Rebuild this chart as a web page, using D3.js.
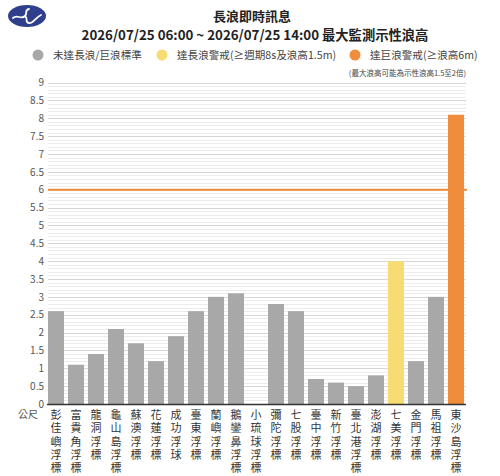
<!DOCTYPE html>
<html>
<head>
<meta charset="utf-8">
<title>長浪即時訊息</title>
<script src="https://cdn.jsdelivr.net/npm/d3@7/dist/d3.min.js"></script>
<style>
  body { margin: 0; background: #fff; }
  text { font-family: "Noto Sans CJK TC", "Noto Sans", sans-serif; }
</style>
</head>
<body>
<script>
var stations = ["彭佳嶼浮標", "富貴角浮標", "龍洞浮標", "龜山島浮標", "蘇澳浮標", "花蓮浮標", "成功浮球",
  "臺東浮標", "蘭嶼浮標", "鵝鑾鼻浮標", "小琉球浮標", "彌陀浮標", "七股浮標", "臺中浮標", "新竹浮標",
  "臺北港浮標", "澎湖浮標", "七美浮標", "金門浮標", "馬祖浮標", "東沙島浮標"];
var waveHeight = [2.6, 1.1, 1.4, 2.1, 1.7, 1.2, 1.9, 2.6, 3.0, 3.1, null, 2.8, 2.6, 0.7, 0.6, 0.5, 0.8, 4.0, 1.2, 3.0, 8.1];
// 0 = below standard, 1 = swell warning, 2 = high wave warning
var level = [0, 0, 0, 0, 0, 0, 0, 0, 0, 0, 0, 0, 0, 0, 0, 0, 0, 1, 0, 0, 2];
var yTicks = [0, 0.5, 1, 1.5, 2, 2.5, 3, 3.5, 4, 4.5, 5, 5.5, 6, 6.5, 7, 7.5, 8, 8.5, 9];
var legendLabels = ["未達長浪/巨浪標準", "達長浪警戒(≥週期8s及浪高1.5m)", "達巨浪警戒(≥浪高6m)"];
var levelColors = ["#a8a8a8", "#f6dc73", "#ef8d3c"];
var threshold = 6;

var width = 500, height = 476;
var svg = d3.select("body").append("svg").attr("width", width).attr("height", height);

var x = d3.scaleBand().domain(stations).range([46, 466]).paddingInner(0.2).paddingOuter(0.1);
var y = d3.scaleLinear().domain([0, 9]).range([404, 82.6]);

// logo
var logo = svg.append("g").attr("transform", "translate(27,16)");
logo.append("ellipse").attr("rx", 19).attr("ry", 11).attr("fill", "#2f3f8c");
logo.append("path")
  .attr("d", "M-14,2 C-10,-2 -6,4 -2,0 C1,-3 -3,-6 2,-7 M-2,0 C2,3 -3,6 2,7 C6,8 9,1 14,-1")
  .attr("fill", "none").attr("stroke", "#fff").attr("stroke-width", 1.8).attr("stroke-linecap", "round");

// titles
svg.append("text").attr("x", 252).attr("y", 21).attr("text-anchor", "middle")
  .attr("font-size", 13).attr("font-weight", "bold").attr("fill", "#222").text("長浪即時訊息");
svg.append("text").attr("x", 255).attr("y", 40).attr("text-anchor", "middle")
  .attr("font-size", 13.3).attr("font-weight", "bold").attr("fill", "#222")
  .text("2026/07/25 06:00 ~ 2026/07/25 14:00 最大監測示性浪高");

// legend
var legendX = [38, 162, 355];
var legend = svg.selectAll(".legend").data(legendLabels).enter().append("g")
  .attr("class", "legend").attr("transform", function (d, i) { return "translate(" + legendX[i] + ",55)"; });
legend.append("circle").attr("r", 5.5).attr("fill", function (d, i) { return levelColors[i]; });
legend.append("text").attr("x", 15).attr("y", 4).attr("font-size", 10.6).attr("fill", "#444").text(function (d) { return d; });

svg.append("text").attr("x", 466).attr("y", 76).attr("text-anchor", "end")
  .attr("font-size", 7.5).attr("fill", "#444").text("(最大浪高可能為示性浪高1.5至2倍)");

// grid
var minor = d3.range(0, 91).map(function (d) { return d / 10; });
svg.append("g").selectAll("line").data(minor).enter().append("line")
  .attr("x1", 48).attr("x2", 466)
  .attr("y1", function (d) { return Math.round(y(d)) + 0.5; })
  .attr("y2", function (d) { return Math.round(y(d)) + 0.5; })
  .attr("stroke", function (d) { return Math.abs(d * 2 - Math.round(d * 2)) < 1e-6 ? "#d6d6d6" : "#ececec"; })
  .attr("stroke-width", 1);

// y axis labels
var yAxis = d3.axisLeft(y).tickValues(yTicks).tickSize(0).tickPadding(0).tickFormat(d3.format("~g"));
var gy = svg.append("g").attr("transform", "translate(44,0)").call(yAxis);
gy.select(".domain").remove();
gy.selectAll("text").attr("font-size", 10).attr("fill", "#555").attr("font-family", "\"Noto Sans\", sans-serif");

// bars
svg.append("g").selectAll("rect").data(stations).enter()
  .filter(function (d, i) { return waveHeight[i] !== null; })
  .append("rect")
  .attr("x", function (d) { return x(d); })
  .attr("width", x.bandwidth())
  .attr("y", function (d) { return y(waveHeight[stations.indexOf(d)]); })
  .attr("height", function (d) { return y(0) - y(waveHeight[stations.indexOf(d)]); })
  .attr("fill", function (d) { return levelColors[level[stations.indexOf(d)]]; });

// threshold line
svg.append("line").attr("x1", 48).attr("x2", 467).attr("y1", y(threshold)).attr("y2", y(threshold))
  .attr("stroke", "#ef8d3c").attr("stroke-width", 2);

// baseline
svg.append("line").attr("x1", 47).attr("x2", 466).attr("y1", y(0) + 0.5).attr("y2", y(0) + 0.5)
  .attr("stroke", "#333").attr("stroke-width", 1.5);

// x labels, one character per row
var chars = [];
stations.forEach(function (d) {
  d.split("").forEach(function (c, j) { chars.push({ name: d, c: c, j: j }); });
});
svg.append("g").selectAll("text").data(chars).enter().append("text")
  .attr("text-anchor", "middle").attr("font-size", 11).attr("fill", "#333")
  .attr("x", function (d) { return x(d.name) + x.bandwidth() / 2; })
  .attr("y", function (d) { return 419 + d.j * 13.3; })
  .text(function (d) { return d.c; });

svg.append("text").attr("x", 28).attr("y", 418).attr("text-anchor", "middle")
  .attr("font-size", 10).attr("fill", "#555").text("公尺");
</script>
</body>
</html>
